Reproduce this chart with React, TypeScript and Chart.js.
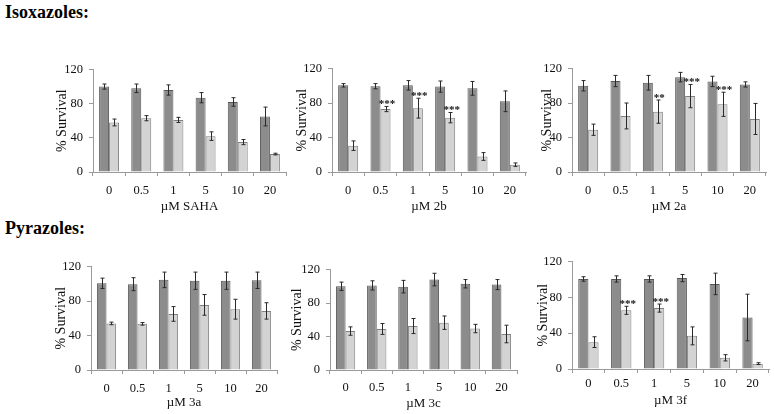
import React, { useEffect, useRef } from 'react';
import { Chart, registerables } from 'chart.js';
Chart.register(...registerables);

const FONT = "'Liberation Serif', 'Times New Roman', serif";

// ---- data ----
const doses = ['0', '0.5', '1', '5', '10', '20'];

const sahaCtrl = [100, 98, 96, 87, 82, 65];
const sahaCtrlErr = [3, 5, 6, 6, 5, 11];
const sahaTreat = [58, 63, 61, 42, 35, 21];
const sahaTreatErr = [4, 3, 3, 5, 3, 1];
const sahaStars = ['', '', '', '', '', ''];

const c2bCtrl = [100.5, 99.5, 100.5, 99, 97, 82];
const c2bCtrlErr = [2, 3, 5.5, 6.5, 8, 12];
const c2bTreat = [30.5, 73, 74, 63, 18, 8.5];
const c2bTreatErr = [5.5, 3, 11.5, 6, 4.5, 2];
const c2bStars = ['', '***', '***', '***', '', ''];

const c2aCtrl = [100, 105.5, 103.5, 110, 105, 101.5];
const c2aCtrlErr = [6, 6.5, 8.5, 5.5, 6, 3];
const c2aTreat = [49, 65, 70, 88, 78.5, 61.5];
const c2aTreatErr = [6.5, 15, 13.5, 13.5, 14, 18];
const c2aStars = ['', '', '**', '***', '***', ''];

const c3aCtrl = [100.5, 99.5, 104.5, 103.5, 103.5, 104];
const c3aCtrlErr = [6, 7.5, 9, 10, 10, 9.5];
const c3aTreat = [54, 53.5, 65, 75.5, 70.5, 68.5];
const c3aTreatErr = [1.5, 1.5, 8.5, 12, 11.5, 9.5];
const c3aStars = ['', '', '', '', '', ''];

const c3cCtrl = [100, 101, 99.5, 108, 103, 102];
const c3cCtrlErr = [5, 5.5, 7.5, 7.5, 5, 6];
const c3cTreat = [46.5, 49, 52.5, 56.5, 49.5, 43];
const c3cTreatErr = [5, 6.5, 9, 8, 5, 10.5];
const c3cStars = ['', '', '', '', '', ''];

const c3fCtrl = [100.5, 100.5, 100.5, 101.5, 95, 57.5];
const c3fCtrlErr = [2.5, 3.5, 3.5, 4, 12, 26];
const c3fTreat = [30, 65.5, 68, 37, 12.5, 6];
const c3fTreatErr = [6, 4.5, 4.5, 10, 3.5, 1];
const c3fStars = ['', '***', '***', '', '', ''];

const yTitle = '% Survival';
const yMax = 120;
const yStep = 40;

// ---- layout (pixel geometry of each panel) ----
type Geo = { L: number; R: number; T: number; B: number; yTitleX: number; labY: number; xTitleY: number };

type PanelDef = {
  xTitle: string;
  ctrl: number[]; ctrlErr: number[];
  treat: number[]; treatErr: number[];
  stars: string[];
  geo: Geo;
};

const panels: PanelDef[] = [
  { xTitle: 'µM SAHA', ctrl: sahaCtrl, ctrlErr: sahaCtrlErr, treat: sahaTreat, treatErr: sahaTreatErr, stars: sahaStars,
    geo: { L: 93, R: 286, T: 66, B: 172, yTitleX: 62, labY: 191, xTitleY: 206 } },
  { xTitle: 'µM 2b', ctrl: c2bCtrl, ctrlErr: c2bCtrlErr, treat: c2bTreat, treatErr: c2bTreatErr, stars: c2bStars,
    geo: { L: 332, R: 526, T: 65, B: 172, yTitleX: 302, labY: 191, xTitleY: 206 } },
  { xTitle: 'µM 2a', ctrl: c2aCtrl, ctrlErr: c2aCtrlErr, treat: c2aTreat, treatErr: c2aTreatErr, stars: c2aStars,
    geo: { L: 572, R: 766, T: 65, B: 172, yTitleX: 547, labY: 191, xTitleY: 206 } },
  { xTitle: 'µM 3a', ctrl: c3aCtrl, ctrlErr: c3aCtrlErr, treat: c3aTreat, treatErr: c3aTreatErr, stars: c3aStars,
    geo: { L: 91, R: 277, T: 263, B: 370, yTitleX: 61, labY: 389, xTitleY: 402 } },
  { xTitle: 'µM 3c', ctrl: c3cCtrl, ctrlErr: c3cCtrlErr, treat: c3cTreat, treatErr: c3cTreatErr, stars: c3cStars,
    geo: { L: 330, R: 517, T: 266, B: 370, yTitleX: 297, labY: 388, xTitleY: 403 } },
  { xTitle: 'µM 3f', ctrl: c3fCtrl, ctrlErr: c3fCtrlErr, treat: c3fTreat, treatErr: c3fTreatErr, stars: c3fStars,
    geo: { L: 572, R: 769, T: 258, B: 369, yTitleX: 543, labY: 384, xTitleY: 400 } },
];

const Y_TITLE_SIZE = 14;
const X_TITLE_SIZE = 13;
const TICK_SIZE = 12.5;
const TICK_LEN = 4;

function Panel({ p }: { p: PanelDef }) {
  const ref = useRef<HTMLCanvasElement | null>(null);
  const g = p.geo;
  const canvasLeft = Math.round(g.yTitleX - (Y_TITLE_SIZE * 1.2) / 2);
  const canvasTop = g.T - 10;
  const canvasBottom = Math.round(g.xTitleY + (X_TITLE_SIZE * 1.2) / 2);
  const width = g.R + 4 - canvasLeft;
  const height = canvasBottom - canvasTop;
  const yW = g.L - canvasLeft;
  const xH = canvasBottom - g.B;
  const xPad = Math.max(0, g.labY - g.B - TICK_LEN - (TICK_SIZE * 1.2) / 2);

  useEffect(() => {
    if (!ref.current) return;
    const errs = [p.ctrlErr, p.treatErr];
    const errPlugin = {
      id: 'errbars',
      afterDatasetsDraw(chart: any) {
        const ctx = chart.ctx;
        const ys = chart.scales.y;
        ctx.save();
        ctx.strokeStyle = '#2a2a2a';
        ctx.lineWidth = 1;
        chart.data.datasets.forEach((ds: any, di: number) => {
          const meta = chart.getDatasetMeta(di);
          meta.data.forEach((el: any, i: number) => {
            const v = ds.data[i];
            const e = errs[di][i];
            const x = Math.round(el.x) + 0.5;
            const yt = ys.getPixelForValue(v + e);
            const yb = ys.getPixelForValue(Math.max(0, v - e));
            ctx.beginPath();
            ctx.moveTo(x, yt);
            ctx.lineTo(x, yb);
            ctx.moveTo(x - 2, yt);
            ctx.lineTo(x + 2, yt);
            ctx.moveTo(x - 2, yb);
            ctx.lineTo(x + 2, yb);
            ctx.stroke();
            if (di === 1 && p.stars[i]) {
              ctx.fillStyle = '#111';
              ctx.font = `bold 11px ${FONT}`;
              ctx.textAlign = 'center';
              ctx.textBaseline = 'alphabetic';
              ctx.fillText(p.stars[i], el.x + 1.5, yt + 1);
            }
          });
        });
        ctx.restore();
      },
    };

    const chart = new Chart(ref.current, {
      type: 'bar',
      data: {
        labels: doses,
        datasets: [
          { label: 'control', data: p.ctrl, backgroundColor: '#8c8c8c', borderColor: '#575757', borderWidth: 1,
            categoryPercentage: 0.62, barPercentage: 1 },
          { label: 'treated', data: p.treat, backgroundColor: '#d3d3d3', borderColor: '#808080', borderWidth: 1,
            categoryPercentage: 0.62, barPercentage: 1 },
        ],
      },
      options: {
        responsive: false,
        animation: false,
        devicePixelRatio: 1,
        layout: { padding: { top: 10, right: 4, left: 0, bottom: 0 } },
        plugins: { legend: { display: false }, tooltip: { enabled: false } },
        scales: {
          x: {
            grid: { display: true, drawOnChartArea: false, drawTicks: true, tickLength: TICK_LEN, color: '#9a9a9a' },
            border: { display: true, color: '#9a9a9a' },
            ticks: { color: '#111', font: { family: FONT, size: TICK_SIZE }, padding: xPad, maxRotation: 0, autoSkip: false },
            title: { display: true, text: p.xTitle, color: '#111', font: { family: FONT, size: X_TITLE_SIZE }, padding: 0 },
            afterFit: (s: any) => { s.height = xH; },
          },
          y: {
            min: 0,
            max: yMax,
            grid: { display: true, drawOnChartArea: false, drawTicks: true, tickLength: TICK_LEN, color: '#9a9a9a' },
            border: { display: true, color: '#9a9a9a' },
            ticks: { stepSize: yStep, color: '#111', font: { family: FONT, size: TICK_SIZE }, padding: 6 },
            title: { display: true, text: yTitle, color: '#111', font: { family: FONT, size: Y_TITLE_SIZE }, padding: 0 },
            afterFit: (s: any) => { s.width = yW; },
          },
        },
      },
      plugins: [errPlugin],
    });
    return () => chart.destroy();
  }, []);

  return (
    <canvas
      ref={ref}
      width={width}
      height={height}
      style={{ position: 'absolute', left: canvasLeft, top: canvasTop, width, height }}
    />
  );
}

const titleStyle: React.CSSProperties = {
  position: 'absolute',
  left: 5,
  fontFamily: FONT,
  fontWeight: 'bold',
  fontSize: 18,
  lineHeight: '20px',
  color: '#000',
  whiteSpace: 'nowrap',
};

export default function App() {
  return (
    <div style={{ position: 'absolute', left: 0, top: 0, width: 774, height: 414, background: '#fff', overflow: 'hidden' }}>
      <div style={{ ...titleStyle, top: 2 }}>Isoxazoles:</div>
      <div style={{ ...titleStyle, top: 218 }}>Pyrazoles:</div>
      {panels.map((p, i) => (
        <Panel key={i} p={p} />
      ))}
    </div>
  );
}
